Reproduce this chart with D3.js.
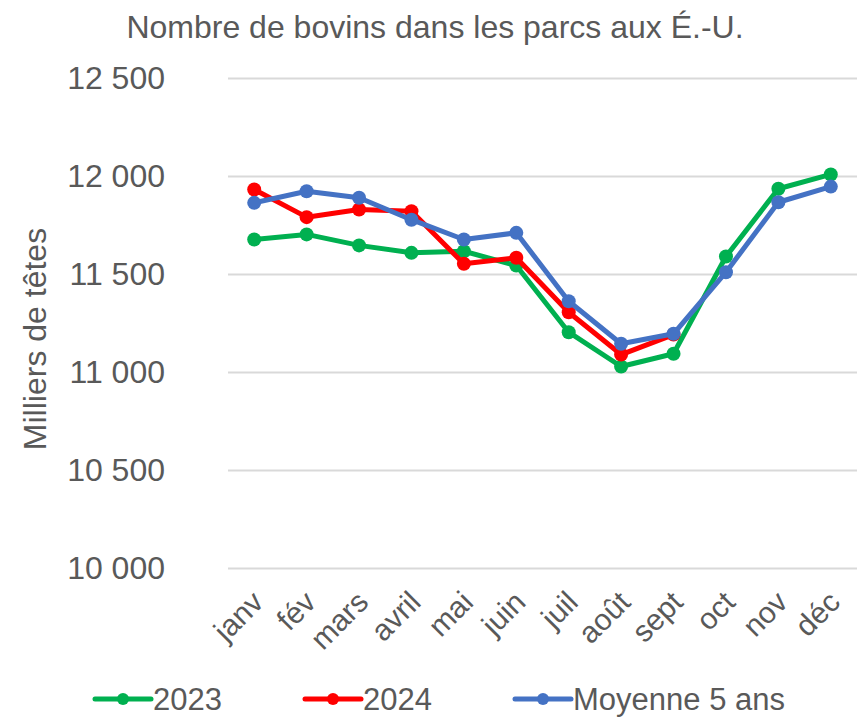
<!DOCTYPE html>
<html>
<head>
<meta charset="utf-8">
<script src="https://cdn.jsdelivr.net/npm/d3@7"></script>
<style>
  body { margin: 0; background: #fff; }
  svg text { font-family: "Liberation Sans", Arial, sans-serif; fill: #595959; }
</style>
</head>
<body>
<div id="chart"></div>
<script>
// months on the x axis
const months = ["janv", "fév", "mars", "avril", "mai", "juin", "juil", "août", "sept", "oct", "nov", "déc"];

// values (milliers de têtes)
const vals2023 = [11676, 11702, 11646, 11608, 11616, 11543, 11203, 11028, 11093, 11589, 11935, 12008];
const vals2024 = [11931, 11790, 11829, 11820, 11552, 11583, 11305, 11089, 11191];
const valsAvg = [11863, 11922, 11889, 11777, 11676, 11710, 11361, 11144, 11195, 11509, 11866, 11946];

const yTicks = [10000, 10500, 11000, 11500, 12000, 12500];

const seriesNames = ["2023", "2024", "Moyenne 5 ans"];
const seriesColors = ["#00b050", "#ff0000", "#4472c4"];

const width = 861;
const height = 717;
const marginTop = 78;
const marginRight = 4;
const marginBottom = 149;
const marginLeft = 228;

const svg = d3.select("#chart")
    .append("svg")
    .attr("width", width)
    .attr("height", height);

const x = d3.scaleBand()
    .domain(months)
    .range([marginLeft, width - marginRight]);

const y = d3.scaleLinear()
    .domain([10000, 12500])
    .range([height - marginBottom, marginTop]);

// title
svg.append("text")
    .attr("x", 435)
    .attr("y", 38)
    .attr("text-anchor", "middle")
    .attr("font-size", 32)
    .text("Nombre de bovins dans les parcs aux É.-U.");

// gridlines + y axis labels
const fmt = d => d3.format(",")(d).replace(",", " ");
svg.append("g")
    .attr("transform", `translate(${marginLeft},0)`)
    .call(d3.axisLeft(y).tickValues(yTicks).tickFormat(fmt)
        .tickSize(-(width - marginLeft - marginRight)).tickPadding(63))
    .call(g => g.select(".domain").remove())
    .call(g => g.selectAll(".tick line").attr("stroke", "#d9d9d9").attr("stroke-width", 2))
    .call(g => g.selectAll(".tick text")
        .attr("font-size", 32)
        .attr("font-family", "Liberation Sans, Arial, sans-serif")
        .attr("fill", "#595959"));

// y axis title
svg.append("text")
    .attr("transform", `translate(46,${(marginTop + height - marginBottom) / 2 + 16}) rotate(-90)`)
    .attr("text-anchor", "middle")
    .attr("font-size", 32)
    .text("Milliers de têtes");

// x axis labels
svg.append("g")
    .attr("transform", `translate(0,${height - marginBottom})`)
    .call(d3.axisBottom(x).tickSize(0).tickPadding(0))
    .call(g => g.select(".domain").remove())
    .call(g => g.selectAll(".tick text")
        .attr("font-size", 30)
        .attr("font-family", "Liberation Sans, Arial, sans-serif")
        .attr("fill", "#595959")
        .attr("text-anchor", "end")
        .attr("dy", 0)
        .attr("transform", "translate(11,36) rotate(-45)"));

// lines
const allSeries = [vals2023, vals2024, valsAvg];
const line = d3.line()
    .x((d, i) => x(months[i]) + x.bandwidth() / 2)
    .y(d => y(d));

allSeries.forEach((vals, k) => {
    const g = svg.append("g");
    g.append("path")
        .attr("fill", "none")
        .attr("stroke", seriesColors[k])
        .attr("stroke-width", 5)
        .attr("stroke-linejoin", "round")
        .attr("d", line(vals));
    g.selectAll("circle")
        .data(vals)
        .join("circle")
        .attr("cx", (d, i) => x(months[i]) + x.bandwidth() / 2)
        .attr("cy", d => y(d))
        .attr("r", 7)
        .attr("fill", seriesColors[k]);
});

// legend
const legendX = [95, 305, 515];
seriesNames.forEach((name, k) => {
    const lg = svg.append("g").attr("transform", `translate(${legendX[k]},699)`);
    lg.append("line")
        .attr("x1", 0).attr("x2", 56)
        .attr("stroke", seriesColors[k])
        .attr("stroke-width", 5)
        .attr("stroke-linecap", "round");
    lg.append("circle")
        .attr("cx", 28).attr("r", 6)
        .attr("fill", seriesColors[k]);
    lg.append("text")
        .attr("x", 58)
        .attr("y", 11)
        .attr("font-size", 31)
        .text(name);
});
</script>
</body>
</html>
